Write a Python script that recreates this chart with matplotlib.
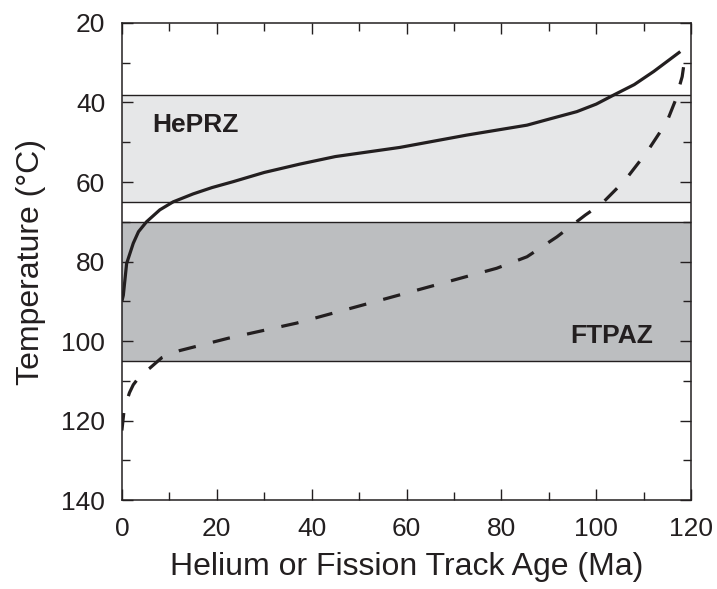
import matplotlib

matplotlib.use("Agg")
import matplotlib.pyplot as plt
from matplotlib.ticker import MultipleLocator

plt.rcParams["font.family"] = ["Liberation Sans", "DejaVu Sans"]

# Helium partial retention zone and fission track partial annealing zone (°C)
heprz = (38, 65)
ftpaz = (70, 105)

# Helium age curve (solid)
he_age = [0, 0.3, 1.0, 2.4, 3.5, 5.2, 8.0, 10.8, 15, 19, 23.5, 30, 37.5, 45,
          58.6, 72.7, 85.4, 90, 95.9, 100, 103.7, 108, 112.1, 117.7]
he_temp = [90, 88.5, 80.5, 75.4, 72.5, 70, 67, 65, 63, 61.4, 59.9, 57.6, 55.5,
           53.6, 51.3, 48.2, 45.7, 44.2, 42.3, 40.4, 38.1, 35.5, 32.2, 27.2]

# Fission track age curve (dashed)
ft_age = [0, 0.5, 1.6, 2.4, 4.0, 5.9, 8.4, 12.2, 22.4, 36.8, 50.9, 62.2, 79,
          85.4, 91.7, 97.7, 101.2, 106.1, 110.7, 114.9, 116.7, 118.1, 118.4]
ft_temp = [122.5, 117, 113, 111, 108.5, 106.8, 104.2, 102.4, 99.3, 95.5, 90.9,
           87.2, 81.7, 78.8, 73.8, 68.3, 65.4, 59.5, 52.4, 44.8, 39.4, 33.5, 31]

fig = plt.figure(figsize=(7.17, 5.89), dpi=100)
ax = fig.add_axes([0.170, 0.151, 0.794, 0.810])

ax.axhspan(*heprz, facecolor="#e6e7e8", edgecolor="none", zorder=0)
ax.axhspan(*ftpaz, facecolor="#bcbec0", edgecolor="none", zorder=0)
for t in (*heprz, *ftpaz):
    ax.axhline(t, color="#231f20", lw=1.0, zorder=1)

ax.plot(he_age, he_temp, color="#231f20", lw=2.3, solid_capstyle="butt",
        solid_joinstyle="round", zorder=3)
ax.plot(ft_age, ft_temp, color="#231f20", lw=2.3, linestyle=(0, (5.5, 5.5)),
        dash_capstyle="butt", dash_joinstyle="round", zorder=3)

ax.text(6.5, 47.3, "HePRZ", fontsize=19, fontweight="bold", color="#231f20")
ax.text(112, 100.5, "FTPAZ", fontsize=19, fontweight="bold", color="#231f20",
        ha="right")

ax.set_xlim(0, 120)
ax.set_ylim(140, 20)
ax.xaxis.set_major_locator(MultipleLocator(20))
ax.xaxis.set_minor_locator(MultipleLocator(10))
ax.yaxis.set_major_locator(MultipleLocator(20))
ax.yaxis.set_minor_locator(MultipleLocator(10))
ax.tick_params(which="both", direction="in", top=True, right=True,
               width=1.0, color="#231f20", labelsize=19, labelcolor="#231f20")
ax.tick_params(which="major", length=8, pad=12)
ax.tick_params(which="minor", length=6)
for s in ax.spines.values():
    s.set_linewidth(1.1)
    s.set_color("#231f20")

ax.set_xlabel("Helium or Fission Track Age (Ma)", fontsize=23, color="#231f20",
              labelpad=8)
ax.set_ylabel("Temperature (°C)", fontsize=23, color="#231f20", labelpad=11)

fig.savefig("out.png", dpi=100)
